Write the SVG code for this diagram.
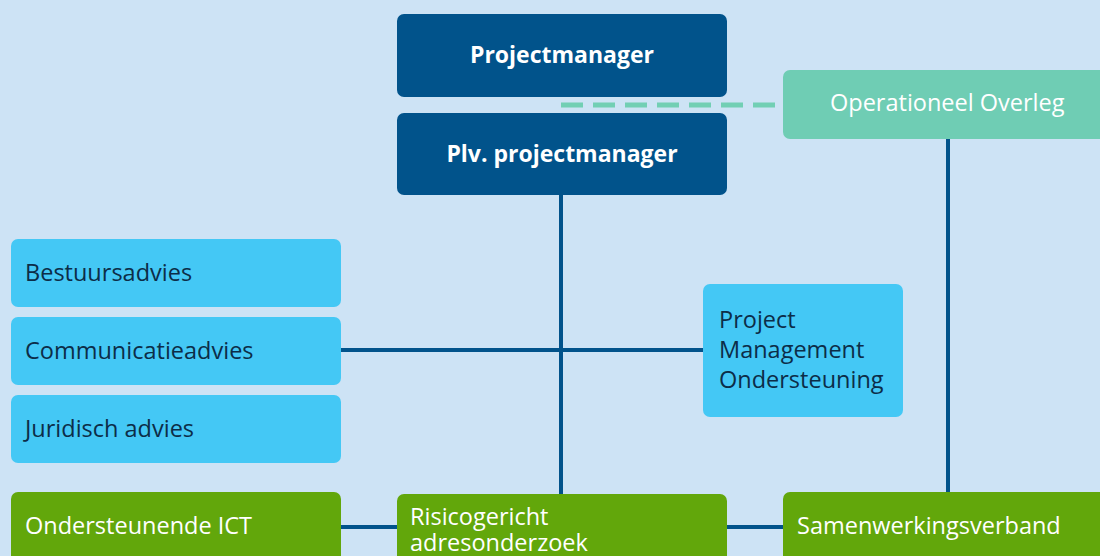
<svg xmlns="http://www.w3.org/2000/svg" width="1100" height="556" viewBox="0 0 1100 556">
<style>
.bg{fill:#cde3f5}
.dark{fill:#01538b}
.mint{fill:#6fcdb4}
.cyan{fill:#44c8f5}
.green{fill:#62a70b}
text{font-family:"Open Sans","Noto Sans",sans-serif;font-size:23.5px}
.w{fill:#ffffff}
.b{font-weight:bold;font-size:23px}
.t{fill:#0c2d48}
.ln{stroke:#01538b;stroke-width:4;fill:none}
.dash{stroke:#72cfb4;stroke-width:5;stroke-dasharray:22 10;fill:none}
</style>
<rect class="bg" x="0" y="0" width="1100" height="556"/>
<g id="connectors">
<line class="dash" x1="561" y1="105" x2="783" y2="105"/>
<line class="ln" x1="561" y1="195" x2="561" y2="494"/>
<line class="ln" x1="948" y1="139" x2="948" y2="492"/>
<line class="ln" x1="341" y1="350" x2="703" y2="350"/>
<line class="ln" x1="341" y1="527" x2="397" y2="527"/>
<line class="ln" x1="727" y1="527" x2="783" y2="527"/>
</g>
<g id="projectmanager">
<rect class="dark" x="397" y="14" width="330" height="83" rx="7"/>
<text class="w b" x="562" y="63" text-anchor="middle">Projectmanager</text>
</g>
<g id="plv-projectmanager">
<rect class="dark" x="397" y="113" width="330" height="82" rx="7"/>
<text class="w b" x="562" y="162" text-anchor="middle">Plv. projectmanager</text>
</g>
<g id="operationeel-overleg">
<rect class="mint" x="783" y="70" width="330" height="69" rx="7"/>
<text class="w" x="830" y="111">Operationeel Overleg</text>
</g>
<g id="bestuursadvies">
<rect class="cyan" x="11" y="239" width="330" height="68" rx="7"/>
<text class="t" x="25" y="281">Bestuursadvies</text>
</g>
<g id="communicatieadvies">
<rect class="cyan" x="11" y="317" width="330" height="68" rx="7"/>
<text class="t" x="25" y="359">Communicatieadvies</text>
</g>
<g id="juridisch-advies">
<rect class="cyan" x="11" y="395" width="330" height="68" rx="7"/>
<text class="t" x="25" y="437">Juridisch advies</text>
</g>
<g id="pmo">
<rect class="cyan" x="703" y="284" width="200" height="133" rx="7"/>
<text class="t"><tspan x="719" y="328">Project</tspan><tspan x="719" y="358">Management</tspan><tspan x="719" y="388">Ondersteuning</tspan></text>
</g>
<g id="ondersteunende-ict">
<rect class="green" x="11" y="492" width="330" height="80" rx="7"/>
<text class="w" x="25" y="534">Ondersteunende ICT</text>
</g>
<g id="risicogericht">
<rect class="green" x="397" y="494" width="330" height="80" rx="7"/>
<text class="w"><tspan x="410" y="525">Risicogericht</tspan><tspan x="410" y="551">adresonderzoek</tspan></text>
</g>
<g id="samenwerkingsverband">
<rect class="green" x="783" y="492" width="330" height="80" rx="7"/>
<text class="w" x="797" y="534">Samenwerkingsverband</text>
</g>
</svg>
